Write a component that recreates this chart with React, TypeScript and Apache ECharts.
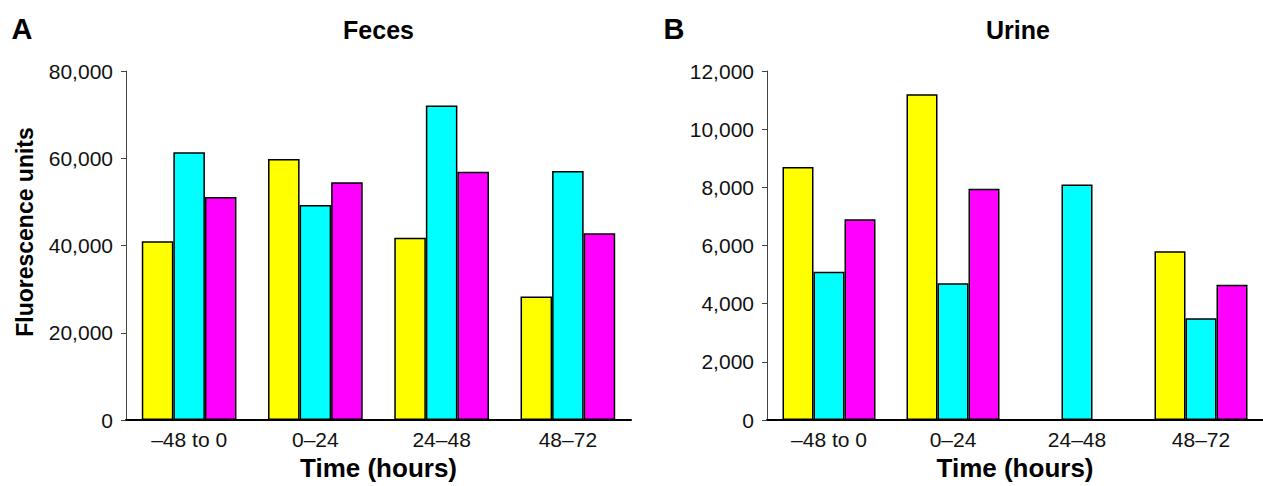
import React, { useEffect, useRef } from "react";
import * as echarts from "echarts";

const categories = ["–48 to 0", "0–24", "24–48", "48–72"];
const fecesYellow = [41000, 59800, 41800, 28300];
const fecesCyan = [61400, 49300, 72100, 57100];
const fecesMagenta = [51100, 54500, 56900, 42800];
const urineYellow: (number | null)[] = [8700, 11200, null, 5800];
const urineCyan = [5100, 4700, 8100, 3500];
const urineMagenta: (number | null)[] = [6900, 7950, null, 4650];
const fecesTicks = { min: 0, max: 80000, interval: 20000 };
const urineTicks = { min: 0, max: 12000, interval: 2000 };

const FONT = "'Liberation Sans', Arial, Helvetica, sans-serif";
const COLORS = ["#FFFF00", "#00FFFF", "#FF00FF"];

function fmt(v: number) {
  return String(v).replace(/\B(?=(\d{3})+(?!\d))/g, ",");
}

export default function App() {
  const ref = useRef<HTMLDivElement>(null);
  useEffect(() => {
    if (!ref.current) return;
    const chart = echarts.init(ref.current, undefined, { renderer: "svg" });
    const xAxisBase = (gridIndex: number) => ({
      type: "category" as const,
      gridIndex,
      data: categories,
      axisLine: { show: true, lineStyle: { color: "#000", width: 2 } },
      axisTick: { show: false },
      axisLabel: { color: "#111", fontSize: 21, fontFamily: FONT, margin: 9 },
      name: "Time (hours)",
      nameLocation: "middle" as const,
      nameGap: 35,
      nameTextStyle: { color: "#000", fontSize: 26, fontWeight: "bold" as const, fontFamily: FONT },
    });
    const yAxisBase = (gridIndex: number, t: { min: number; max: number; interval: number }) => ({
      type: "value" as const,
      gridIndex,
      min: t.min,
      max: t.max,
      interval: t.interval,
      splitLine: { show: false },
      axisLine: { show: true, lineStyle: { color: "#444", width: 1 } },
      axisTick: { show: true, length: 5, lineStyle: { color: "#444", width: 1 } },
      axisLabel: { color: "#111", fontSize: 21, fontFamily: FONT, margin: 13, formatter: (v: number) => fmt(v) },
    });
    const bar = (data: (number | null)[], color: string, idx: number) => ({
      type: "bar" as const,
      xAxisIndex: idx,
      yAxisIndex: idx,
      data: data.map((v) => (v === null ? "-" : v)),
      barWidth: "25%",
      barGap: "0%",
      itemStyle: { color, borderColor: "#000", borderWidth: 1.5 },
    });
    chart.setOption({
      animation: false,
      backgroundColor: "#fff",
      grid: [
        { left: 126, top: 71, width: 505, height: 352 },
        { left: 767, top: 71, width: 502, height: 352 },
      ],
      xAxis: [xAxisBase(0), xAxisBase(1)],
      yAxis: [yAxisBase(0, fecesTicks), yAxisBase(1, urineTicks)],
      series: [
        bar(fecesYellow, COLORS[0], 0),
        bar(fecesCyan, COLORS[1], 0),
        bar(fecesMagenta, COLORS[2], 0),
        bar(urineYellow, COLORS[0], 1),
        bar(urineCyan, COLORS[1], 1),
        bar(urineMagenta, COLORS[2], 1),
      ],
      graphic: [
        { type: "text", x: 22, y: 29, style: { text: "A", fontSize: 29, fontWeight: "bold", fontFamily: FONT, fill: "#000", textAlign: "center", textVerticalAlign: "middle" } },
        { type: "text", x: 674, y: 29, style: { text: "B", fontSize: 29, fontWeight: "bold", fontFamily: FONT, fill: "#000", textAlign: "center", textVerticalAlign: "middle" } },
        { type: "text", x: 378.5, y: 30, style: { text: "Feces", fontSize: 25, fontWeight: "bold", fontFamily: FONT, fill: "#000", textAlign: "center", textVerticalAlign: "middle" } },
        { type: "text", x: 1018, y: 30, style: { text: "Urine", fontSize: 25, fontWeight: "bold", fontFamily: FONT, fill: "#000", textAlign: "center", textVerticalAlign: "middle" } },
        { type: "text", x: 25, y: 232, rotation: Math.PI / 2, style: { text: "Fluorescence units", fontSize: 23, fontWeight: "bold", fontFamily: FONT, fill: "#000", textAlign: "center", textVerticalAlign: "middle" } },
      ],
    });
    return () => chart.dispose();
  }, []);
  return (
    <div
      ref={ref}
      style={{ position: "absolute", left: 0, top: 0, width: 1263, height: 486, background: "#fff" }}
    />
  );
}
